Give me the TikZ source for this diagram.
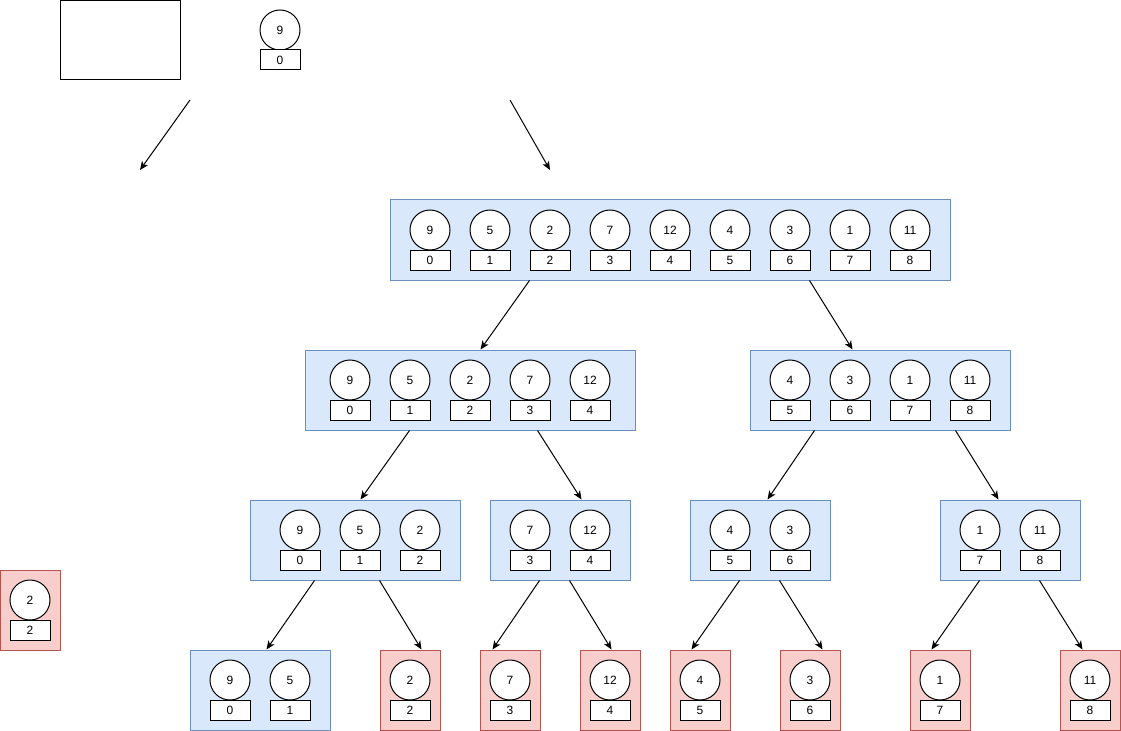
\documentclass[tikz,border=0pt]{standalone}
\usepackage{fontspec}
\setmainfont{Liberation Sans}
\usetikzlibrary{arrows.meta,calc}
\definecolor{bfill}{HTML}{DAE8FC}
\definecolor{bdraw}{HTML}{6C8EBF}
\definecolor{rfill}{HTML}{F8CECC}
\definecolor{rdraw}{HTML}{B85450}
\newcommand\mycell[5]{%
  \node[circ] (#1c) at ({#2},{#3}) {#4};
  \node[idx] (#1i) at ({#2},{#3+30}) {#5};}
\newcommand\myrow[4]{%
  \foreach \v/\i [count=\k] in {#4} {\mycell{#1-\k}{#2+60*(\k-1)}{#3+30}{\v}{\i}}}
\begin{document}
\begin{tikzpicture}[x=0.75pt,y=-0.75pt,font=\fontsize{9}{10}\selectfont,
  circ/.style={circle,draw,line width=0.75pt,minimum size=30pt,inner sep=0pt,fill=white},
  idx/.style={rectangle,draw,line width=0.75pt,minimum width=30pt,minimum height=15pt,inner sep=0pt,fill=white},
  bluebox/.style={draw=bdraw,fill=bfill,line width=0.75pt,minimum height=60pt,inner sep=0pt},
  redbox/.style={draw=rdraw,fill=rfill,line width=0.75pt,minimum height=60pt,minimum width=45pt,inner sep=0pt},
  arr/.style={-{Stealth[length=6.5pt,width=5.5pt,inset=1.8pt]},line width=0.75pt}]
\useasboundingbox (0,0) rectangle (1121,731);

% blank box and solo cell
\node[draw,line width=0.75pt,minimum width=90pt,minimum height=59.25pt,inner sep=0pt] (blank) at (120,40.5) {};
\myrow{solo}{280}{0}{9/0}

% free arrows
\coordinate (a1s) at (190,100);
\coordinate (a1e) at (140,170);
\coordinate (a2s) at (510,100);
\coordinate (a2e) at (550,170);
\draw[arr] (a1s) -- (a1e);
\draw[arr] (a2s) -- (a2e);

% level 1
\node[bluebox,minimum width=420pt] (top) at (670,240) {};
\myrow{top}{430}{200}{9/0,5/1,2/2,7/3,12/4,4/5,3/6,1/7,11/8}

% level 2
\node[bluebox,minimum width=247.5pt] (l2a) at (470,390) {};
\myrow{l2a}{350}{350}{9/0,5/1,2/2,7/3,12/4}
\node[bluebox,minimum width=195pt] (l2b) at (880,390) {};
\myrow{l2b}{790}{350}{4/5,3/6,1/7,11/8}

% level 3
\node[bluebox,minimum width=157.5pt] (l3a) at (355,540) {};
\myrow{l3a}{300}{500}{9/0,5/1,2/2}
\node[bluebox,minimum width=105pt] (l3b) at (560,540) {};
\myrow{l3b}{530}{500}{7/3,12/4}
\node[bluebox,minimum width=105pt] (l3c) at (760,540) {};
\myrow{l3c}{730}{500}{4/5,3/6}
\node[bluebox,minimum width=105pt] (l3d) at (1010,540) {};
\myrow{l3d}{980}{500}{1/7,11/8}

% level 4
\node[bluebox,minimum width=105pt] (l4a) at (260,690) {};
\myrow{l4a}{230}{650}{9/0,5/1}
\node[redbox] (l4b) at (410,690) {};
\myrow{l4b}{410}{650}{2/2}
\node[redbox] (l4c) at (510,690) {};
\myrow{l4c}{510}{650}{7/3}
\node[redbox] (l4d) at (610,690) {};
\myrow{l4d}{610}{650}{12/4}
\node[redbox] (l4e) at (700,690) {};
\myrow{l4e}{700}{650}{4/5}
\node[redbox] (l4f) at (810,690) {};
\myrow{l4f}{810}{650}{3/6}
\node[redbox] (l4g) at (940,690) {};
\myrow{l4g}{940}{650}{1/7}
\node[redbox] (l4h) at (1090,690) {};
\myrow{l4h}{1090}{650}{11/8}

% separate red box on the left
\node[redbox] (leftred) at (30,610) {};
\myrow{leftred}{30}{570}{2/2}

% connectors
\draw[arr] ($(top.south west)+(140,0)$) -- ($(l2a.north west)+(176,0)$);
\draw[arr] ($(top.south west)+(420,0)$) -- ($(l2b.north west)+(103,0)$);
\draw[arr] ($(l2a.south west)+(105,0)$) -- ($(l3a.north west)+(111,0)$);
\draw[arr] ($(l2a.south west)+(233,0)$) -- ($(l3b.north west)+(92,0)$);
\draw[arr] ($(l2b.south west)+(65,0)$) -- ($(l3c.north west)+(78,0)$);
\draw[arr] ($(l2b.south west)+(206,0)$) -- ($(l3d.north west)+(59,0)$);
\draw[arr] ($(l3a.south west)+(65,0)$) -- ($(l4a.north west)+(77,0)$);
\draw[arr] ($(l3a.south west)+(130,0)$) -- ($(l4b.north west)+(42,0)$);
\draw[arr] ($(l3b.south west)+(50,0)$) -- ($(l4c.north west)+(13,0)$);
\draw[arr] ($(l3b.south west)+(80,0)$) -- ($(l4d.north west)+(32,0)$);
\draw[arr] ($(l3c.south west)+(50,0)$) -- ($(l4e.north west)+(22,0)$);
\draw[arr] ($(l3c.south west)+(90,0)$) -- ($(l4f.north west)+(43,0)$);
\draw[arr] ($(l3d.south west)+(40,0)$) -- ($(l4g.north west)+(22,0)$);
\draw[arr] ($(l3d.south west)+(100,0)$) -- ($(l4h.north west)+(23,0)$);
\end{tikzpicture}
\end{document}
